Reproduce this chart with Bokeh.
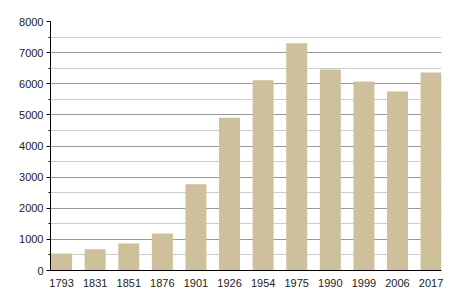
from bokeh.plotting import figure
from bokeh.models import Range1d, SingleIntervalTicker, FixedTicker
from bokeh.embed import file_html
from bokeh.resources import INLINE

years = ["1793", "1831", "1851", "1876", "1901", "1926", "1954", "1975", "1990", "1999", "2006", "2017"]
population = [550, 680, 870, 1190, 2770, 4910, 6110, 7300, 6460, 6070, 5750, 6360]

xs = list(range(len(years)))

p = figure(width=450, height=300, output_backend="svg", toolbar_location=None,
           x_range=Range1d(-0.33, len(years) - 1 + 0.31), y_range=Range1d(0, 8000),
           min_border_left=50, min_border_right=9, min_border_top=21, min_border_bottom=30)
p.outline_line_color = None
p.background_fill_color = "white"
p.border_fill_color = "white"

p.vbar(x=xs, top=population, width=0.625, bottom=0,
       fill_color="#CDC09B", line_color=None)

font = "Liberation Sans"

p.xaxis.ticker = FixedTicker(ticks=xs)
p.xaxis.major_label_overrides = {i: y for i, y in zip(xs, years)}
p.xaxis.major_tick_line_color = None
p.xaxis.minor_tick_line_color = None
p.xaxis.axis_line_color = "black"
p.xaxis.major_label_standoff = 2
p.xaxis.major_label_text_font = font
p.xaxis.major_label_text_font_size = "11px"
p.xaxis.major_label_text_color = "#222222"

p.yaxis.ticker = SingleIntervalTicker(interval=1000, num_minor_ticks=2)
p.yaxis.axis_line_color = "black"
p.yaxis.major_tick_line_color = "black"
p.yaxis.minor_tick_line_color = "black"
p.yaxis.major_tick_out = 4
p.yaxis.major_tick_in = 0
p.yaxis.minor_tick_out = 2
p.yaxis.minor_tick_in = 0
p.yaxis.major_label_standoff = 3
p.yaxis.major_label_text_font = font
p.yaxis.major_label_text_font_size = "11px"
p.yaxis.major_label_text_color = "#222222"

p.xgrid.grid_line_color = None
p.ygrid.ticker = SingleIntervalTicker(interval=1000, num_minor_ticks=2)
p.ygrid.grid_line_color = "#999999"
p.ygrid.minor_grid_line_color = "#cccccc"

open("out.html", "w").write(file_html(p, INLINE))
